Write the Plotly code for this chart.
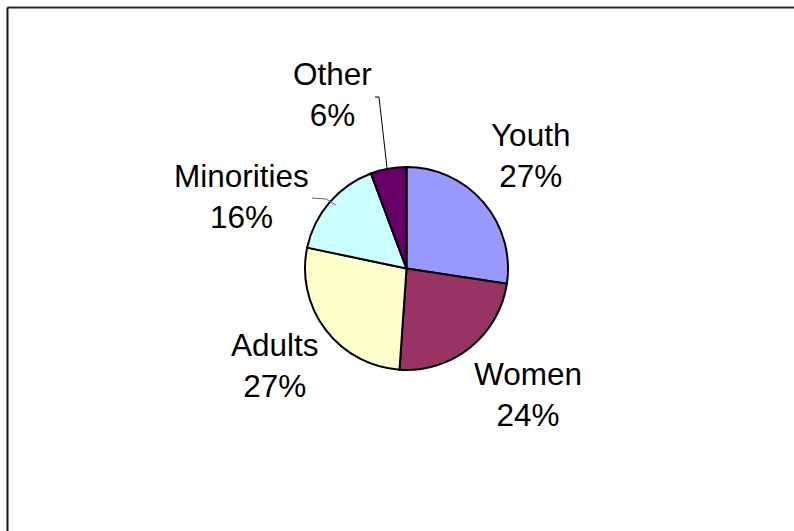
import plotly.graph_objects as go

# ---- data ----
labels = ["Youth", "Women", "Adults", "Minorities", "Other"]
values = [27.4, 23.7, 27.2, 16.0, 5.7]
colors = ["#9999FF", "#993366", "#FFFFCC", "#CCFFFF", "#660066"]

W, H = 794, 531

def px(x, y):
    """pixel (from top-left) -> paper coords"""
    return x / W, 1 - y / H

total = sum(values)
pcts = [v / total * 100 for v in values]
texts = [f"{l}<br>{round(p)}%" for l, p in zip(labels, pcts)]

# pie geometry (pixels)
cx, cy, r = 406.5, 268.5, 101.5

fig = go.Figure(go.Pie(
    labels=labels,
    values=values,
    sort=False,
    direction="clockwise",
    rotation=0,
    textinfo="none",
    hoverinfo="skip",
    showlegend=False,
    marker=dict(colors=colors, line=dict(color="#000000", width=2)),
    domain=dict(x=[(cx - r) / W, (cx + r) / W],
                y=[1 - (cy + r) / H, 1 - (cy - r) / H]),
))

# label block centres (pixels)
label_pos = [(530, 156), (528, 394), (275, 365), (241, 196), (332, 95)]
annotations = []
for t, (x, y) in zip(texts, label_pos):
    ax, ay = px(x, y)
    annotations.append(dict(
        text=t, x=ax, y=ay, xref="paper", yref="paper",
        xanchor="center", yanchor="middle", showarrow=False, align="center",
        font=dict(family="Liberation Sans, Arial, sans-serif", size=31.5, color="#000000"),
    ))

shapes = []
def seg(x0, y0, x1, y1, color, width):
    a0, b0 = px(x0, y0)
    a1, b1 = px(x1, y1)
    return dict(type="line", xref="paper", yref="paper", x0=a0, y0=b0, x1=a1, y1=b1,
                line=dict(color=color, width=width))

# chart frame (top & left visible)
shapes.append(seg(7.5, 7.5, 794, 7.5, "#2a2a2a", 2))
shapes.append(seg(7.5, 7.5, 7.5, 531, "#111111", 2))
# leader lines
shapes.append(seg(375, 97, 379, 97, "#000000", 1))
shapes.append(seg(379, 97, 387, 168, "#000000", 1))
shapes.append(seg(312, 198, 326, 199, "#666666", 1))
shapes.append(seg(326, 199, 336, 205, "#666666", 1))

fig.update_layout(
    width=W, height=H,
    margin=dict(l=0, r=0, t=0, b=0),
    paper_bgcolor="white", plot_bgcolor="white",
    annotations=annotations, shapes=shapes,
)

fig.write_html("out.html",
               config={"displayModeBar": False, "staticPlot": True},
               post_script="document.body.style.margin='0';document.body.style.overflow='hidden';")
